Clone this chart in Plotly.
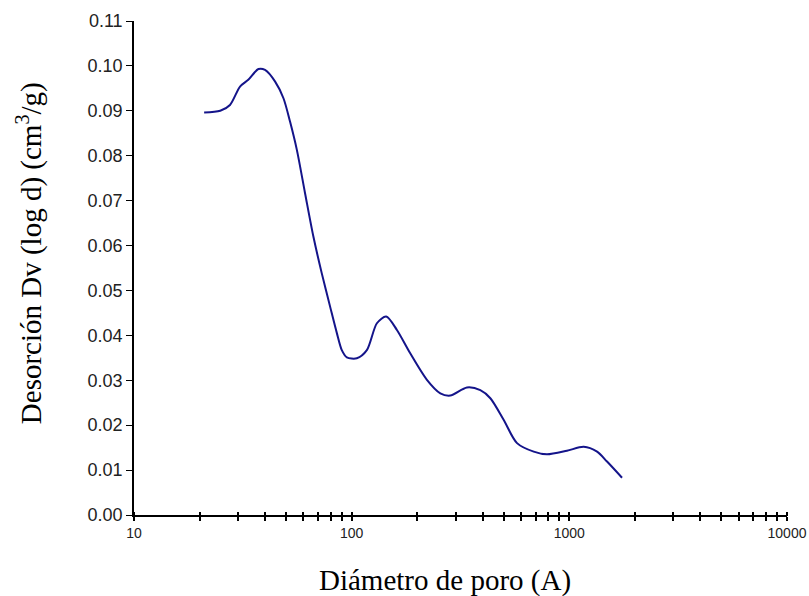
import plotly.graph_objects as go

diam = [21.0, 24.9, 27.6, 30.7, 33.5, 37.3, 40.0, 44.5, 48.6, 52.1, 56.0, 61.1, 66.7,
        72.9, 79.6, 85.5, 90.1, 95.0, 105.6, 117.4, 130.6, 144.1, 161.4, 185.8, 221.7,
        255.4, 283.8, 338.6, 390, 433.6, 499, 575, 686, 789, 975, 1164, 1341, 1490, 1746]
dv = [0.0896, 0.0900, 0.0913, 0.0954, 0.0969, 0.0993, 0.0991, 0.0965, 0.0928, 0.0876,
      0.0813, 0.0716, 0.0620, 0.0538, 0.0464, 0.0405, 0.0367, 0.0351, 0.0349, 0.0367,
      0.0427, 0.0442, 0.0412, 0.0360, 0.0301, 0.0271, 0.0266, 0.0284, 0.0278, 0.0260,
      0.0212, 0.0160, 0.0141, 0.0135, 0.0143, 0.0152, 0.0141, 0.0119, 0.0083]

x_major = [10, 100, 1000, 10000]
x_minor = [m * d for d in (10, 100, 1000) for m in range(2, 10)]
y_ticks = [i / 100 for i in range(0, 12)]

x_title = "Diámetro de poro (A)"
y_title = "Desorción Dv (log d) (cm<sup>3</sup>/g)"

fig = go.Figure()
fig.add_trace(go.Scatter(x=diam, y=dv, mode="lines",
                         line=dict(color="#14148a", width=2, shape="spline", smoothing=0.8),
                         showlegend=False, hoverinfo="skip"))
fig.add_trace(go.Scatter(x=[10, 10000], y=[0, 0], xaxis="x2", yaxis="y", mode="markers",
                         marker=dict(size=1, color="rgba(0,0,0,0)"),
                         showlegend=False, hoverinfo="skip"))

xr = [1, 4]
title_font = dict(family="Liberation Serif, Times New Roman", size=29, color="black")
fig.update_layout(
    width=809, height=596,
    margin=dict(l=134, r=22, t=21, b=81, autoexpand=False),
    plot_bgcolor="white", paper_bgcolor="white",
    xaxis=dict(type="log", range=xr, showgrid=False, zeroline=False, automargin=False,
               showline=True, linecolor="black", linewidth=2,
               tickvals=x_major, ticktext=[str(v) for v in x_major],
               ticks="outside", ticklen=4, tickwidth=2, tickcolor="black",
               minor=dict(tickvals=x_minor, ticks="outside", ticklen=4, tickwidth=1.5, tickcolor="black"),
               tickfont=dict(family="Liberation Sans, Arial", size=14, color="#222")),
    xaxis2=dict(type="log", range=xr, overlaying="x", anchor="free", position=0.0081, side="bottom",
                showgrid=False, zeroline=False, showline=False, showticklabels=False, automargin=False,
                tickvals=x_major, ticks="outside", ticklen=4, tickwidth=2, tickcolor="black",
                minor=dict(tickvals=x_minor, ticks="outside", ticklen=4, tickwidth=1.5, tickcolor="black")),
    yaxis=dict(range=[0, 0.11], showgrid=False, zeroline=False, automargin=False,
               showline=True, linecolor="black", linewidth=1.5,
               tickvals=y_ticks, tickformat=".2f",
               ticks="outside", ticklen=6, tickwidth=1, tickcolor="black",
               tickfont=dict(family="Liberation Sans, Arial", size=18, color="#222")),
    annotations=[
        dict(text=x_title, xref="paper", yref="paper", x=0.476, y=-0.1336,
             xanchor="center", yanchor="middle", showarrow=False, font=title_font),
        dict(text=y_title, xref="paper", yref="paper", x=-0.1608, y=0.530, textangle=-90,
             xanchor="center", yanchor="middle", showarrow=False, font=title_font),
    ],
)

fig.write_html("out.html")
